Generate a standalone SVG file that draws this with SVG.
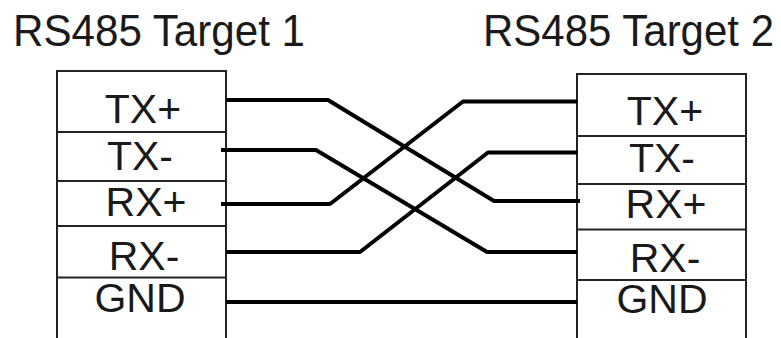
<svg xmlns="http://www.w3.org/2000/svg" width="781" height="338" viewBox="0 0 781 338">
<style>
.box{fill:#fff;stroke:#222;stroke-width:2}
.div{stroke:#222;stroke-width:2}
.lbl{font-family:"Liberation Sans",Arial,sans-serif;font-size:41px;fill:#1a1a1a;text-anchor:middle}
.ttl{font-family:"Liberation Sans",Arial,sans-serif;font-size:45px;fill:#1a1a1a}
.wire{fill:none;stroke:#000;stroke-width:4;stroke-linejoin:round}
</style>
<rect width="781" height="338" fill="#fff"/>
<text class="ttl" x="13" y="46" textLength="292" lengthAdjust="spacingAndGlyphs">RS485 Target 1</text>
<text class="ttl" x="483" y="46" textLength="291" lengthAdjust="spacingAndGlyphs">RS485 Target 2</text>
<g id="target1">
<rect class="box" x="57" y="71" width="169" height="280"/>
<line class="div" x1="57" y1="132" x2="226" y2="132"/>
<line class="div" x1="57" y1="181" x2="226" y2="181"/>
<line class="div" x1="57" y1="226" x2="226" y2="226"/>
<line class="div" x1="57" y1="277.5" x2="226" y2="277.5"/>
<text class="lbl" x="143" y="123">TX+</text>
<text class="lbl" x="140" y="170">TX-</text>
<text class="lbl" x="146" y="216">RX+</text>
<text class="lbl" x="144" y="270">RX-</text>
<text class="lbl" x="140" y="312">GND</text>
</g>
<g id="target2">
<rect class="box" x="577" y="74" width="169" height="280"/>
<line class="div" x1="577" y1="136" x2="746" y2="136"/>
<line class="div" x1="577" y1="184" x2="746" y2="184"/>
<line class="div" x1="577" y1="229.5" x2="746" y2="229.5"/>
<line class="div" x1="577" y1="280" x2="746" y2="280"/>
<text class="lbl" x="665" y="125">TX+</text>
<text class="lbl" x="662" y="172">TX-</text>
<text class="lbl" x="666" y="218">RX+</text>
<text class="lbl" x="665" y="272">RX-</text>
<text class="lbl" x="662" y="313">GND</text>
</g>
<g id="connectors">
<path class="wire" d="M226,100 L328,100 L494,201 L580,201"/>
<path class="wire" d="M221,150 L316,150 L487,252 L577,252"/>
<path class="wire" d="M221,204 L330,204 L463,101.5 L577,101.5"/>
<path class="wire" d="M226,252 L360,252 L488,152.5 L577,152.5"/>
<path class="wire" d="M226,302 L577,302"/>
</g>
</svg>
